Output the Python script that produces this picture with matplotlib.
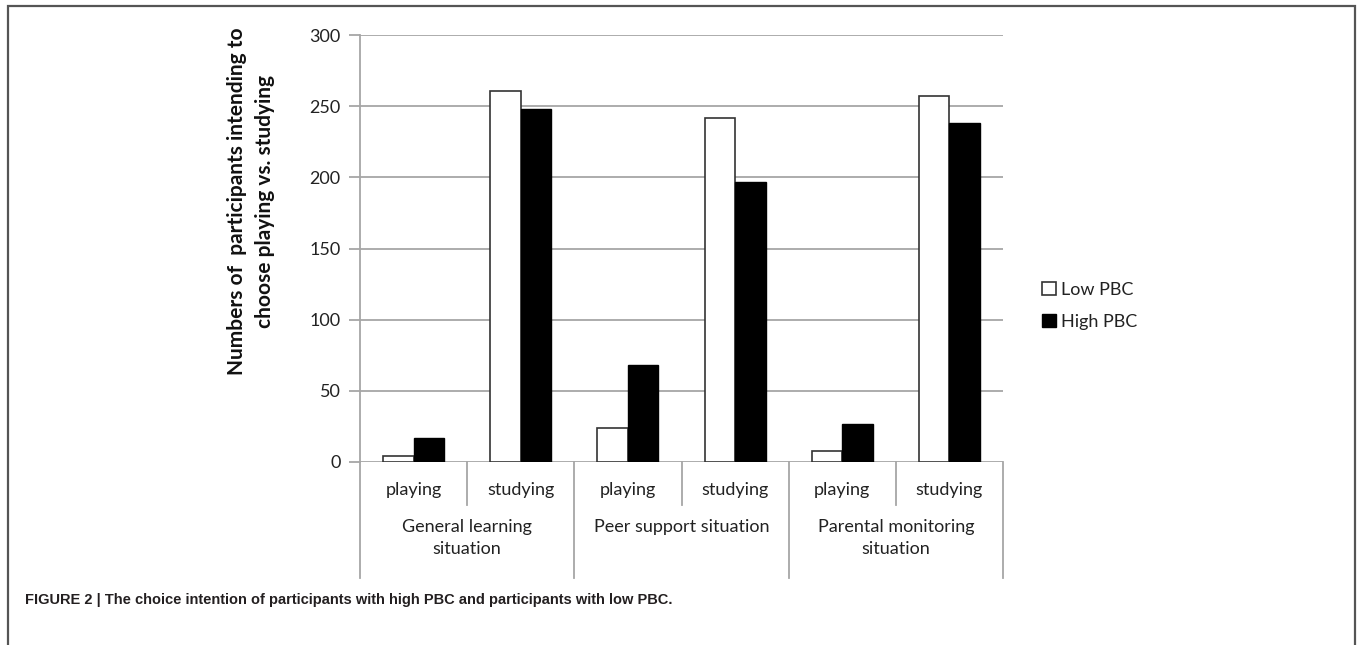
import matplotlib.pyplot as plt
from matplotlib.patches import Patch, Rectangle
import numpy as np

plt.rcParams['font.family'] = ['Lato', 'DejaVu Sans']

choices = ["playing", "studying", "playing", "studying", "playing", "studying"]
situations = ["General learning\nsituation", "Peer support situation",
              "Parental monitoring\nsituation"]
low_pbc = [4, 261, 24, 242, 8, 257]
high_pbc = [17, 248, 68, 197, 27, 238]
series_names = ["Low PBC", "High PBC"]
caption = ("FIGURE 2 | The choice intention of participants with high PBC "
           "and participants with low PBC.")

W, H = 1357, 645
fig = plt.figure(figsize=(W / 100, H / 100), dpi=100)

# axes placed in pixel terms of the reference
left, right, top, bottom = 360, 1003, 35, 462
ax = fig.add_axes([left / W, 1 - bottom / H, (right - left) / W, (bottom - top) / H])

x = np.arange(len(choices)) + 0.5
bw = 0.285
ax.bar(x - bw / 2, low_pbc, bw, color="white", edgecolor="#333333", linewidth=1.2,
       zorder=3, label=series_names[0])
ax.bar(x + bw / 2, high_pbc, bw, color="black", edgecolor="black", linewidth=1.0,
       zorder=3, label=series_names[1])

ax.set_xlim(0, len(choices))
ax.set_ylim(0, 300)
ax.set_yticks(range(0, 301, 50))
ax.yaxis.grid(True, color="#a6a6a6", linewidth=1.3)
ax.set_axisbelow(True)
for s in ["top", "right", "bottom"]:
    ax.spines[s].set_visible(False)
ax.spines["left"].set_color("#a6a6a6")
ax.spines["left"].set_linewidth(1.3)
ax.tick_params(axis="y", length=8, width=1.3, color="#a6a6a6", labelsize=13,
               labelcolor="#222222", pad=6)
ax.set_xticks([])

# category axis below the plot
ah = bottom - top
trans = ax.get_xaxis_transform()
sep_long = -(578 - bottom) / ah
sep_short = -(505 - bottom) / ah
for i in range(len(choices) + 1):
    y0 = sep_long if i % 2 == 0 else sep_short
    ax.plot([i, i], [0, y0], color="#a6a6a6", lw=1.3, transform=trans, clip_on=False)
for xi, lab in zip(x, choices):
    ax.text(xi, -(490 - bottom) / ah, lab, transform=trans, ha="center", va="center",
            fontsize=13, color="#222222")
for j, lab in enumerate(situations):
    ax.text(2 * j + 1, -(519 - bottom) / ah, lab, transform=trans, ha="center",
            va="top", fontsize=13, color="#222222", linespacing=1.45)

fig.text(251 / W, 1 - 201 / H,
         "Numbers of  participants intending to\nchoose playing vs. studying",
         rotation=90, ha="center", va="center", fontsize=15, fontweight="bold",
         color="#111111", linespacing=1.45)

handles = [Patch(facecolor="white", edgecolor="#333333", linewidth=1.2),
           Patch(facecolor="black", edgecolor="black")]
fig.legend(handles, series_names, loc="center left",
           bbox_to_anchor=(1026 / W, 1 - 306 / H), frameon=False, fontsize=13,
           handlelength=0.75, handleheight=0.75, handletextpad=0.3, labelspacing=0.9,
           labelcolor="#222222")

fig.text(25 / W, 1 - 600 / H, caption, ha="left", va="center",
         family="Liberation Sans", fontweight="bold", fontsize=10.5, color="#231f20")

fig.patches.append(Rectangle((8 / W, -0.1), (1355 - 8) / W, 1.1 - 6 / H,
                             transform=fig.transFigure, fill=False,
                             edgecolor="#555555", linewidth=1.6))

fig.savefig("out.png", dpi=100)
